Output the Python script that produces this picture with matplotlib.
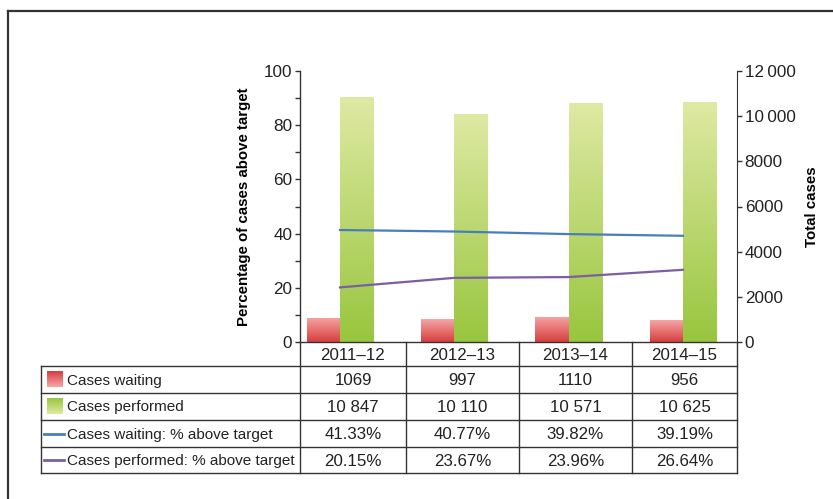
import numpy as np
import matplotlib
matplotlib.use("Agg")
import matplotlib.pyplot as plt
from matplotlib.colors import LinearSegmentedColormap
from matplotlib.ticker import FuncFormatter, MultipleLocator


# Financial years shown on the category axis
years = ["2011\u201312", "2012\u201313", "2013\u201314", "2014\u201315"]

# Totals (right axis)
cases_waiting = [1069, 997, 1110, 956]
cases_performed = [10847, 10110, 10571, 10625]

# Percentage above target (left axis)
waiting_pct = [41.33, 40.77, 39.82, 39.19]
performed_pct = [20.15, 23.67, 23.96, 26.64]

row_labels = ["Cases waiting", "Cases performed",
              "Cases waiting: % above target", "Cases performed: % above target"]

plt.rcParams["font.family"] = ["Liberation Sans", "DejaVu Sans"]

W, H = 833, 499
fig = plt.figure(figsize=(W / 100, H / 100), dpi=100)

red_map = LinearSegmentedColormap.from_list("red", ["#d63e3d", "#f6a6a6"])
green_map = LinearSegmentedColormap.from_list("green", ["#98c63f", "#dfe9a3"])
blue = "#4a7ebb"
purple = "#7d5ea2"


def px_box(x0, y0, x1, y1):
    # pixel box (top-left origin) -> figure fraction rect
    return [x0 / W, 1 - y1 / H, (x1 - x0) / W, (y1 - y0) / H]


def gradient_fill(axis, patch, cmap):
    x0, y0 = patch.get_x(), patch.get_y()
    w, h = patch.get_width(), patch.get_height()
    grad = np.linspace(0, 1, 256).reshape(-1, 1)
    im = axis.imshow(grad, cmap=cmap, origin="lower", aspect="auto",
                     extent=(x0, x0 + w, y0, y0 + h), zorder=patch.get_zorder() + 0.1)
    im.set_clip_path(patch)


# Main plot area
ax = fig.add_axes(px_box(300, 71, 737, 342))
axb = ax.twinx()
ax.set_zorder(axb.get_zorder() + 1)
ax.patch.set_visible(False)

x = np.arange(len(years))
bw = 0.29

# Bars on the totals axis
bars_w = axb.bar(x - bw / 2, cases_waiting, bw, color="#e77", edgecolor="none")
bars_p = axb.bar(x + bw / 2, cases_performed, bw, color="#bd6", edgecolor="none")
for b in bars_w:
    gradient_fill(axb, b, red_map)
for b in bars_p:
    gradient_fill(axb, b, green_map)
axb.set_ylim(0, 12000)

# Percentage lines
ax.plot(x, waiting_pct, color=blue, lw=1.6)
ax.plot(x, performed_pct, color=purple, lw=1.6)
ax.set_ylim(0, 100)
ax.set_xlim(-0.35, 3.473)
axb.set_xlim(-0.35, 3.473)

# Axis styling
for a in (ax, axb):
    a.spines["top"].set_visible(False)
    a.set_xticks([])
ax.spines["right"].set_visible(False)
axb.spines["left"].set_visible(False)
for s in ("left", "bottom"):
    ax.spines[s].set_color("#333333")
    ax.spines[s].set_linewidth(1.0)
axb.spines["right"].set_color("#333333")
axb.spines["bottom"].set_visible(False)

ax.yaxis.set_major_locator(MultipleLocator(20))
ax.yaxis.set_minor_locator(MultipleLocator(10))
ax.tick_params(axis="y", which="both", direction="out", length=3.5, width=1,
               color="#333333", labelsize=12.3, pad=2, labelcolor="#222222")
axb.yaxis.set_major_locator(MultipleLocator(2000))
axb.yaxis.set_major_formatter(FuncFormatter(
    lambda v, p: f"{int(v):,}".replace(",", "\u2009") if v >= 10000 else f"{int(v)}"))
axb.tick_params(axis="y", direction="out", length=3.5, width=1,
                color="#333333", labelsize=12.3, pad=2, labelcolor="#222222")

ax.set_ylabel("Percentage of cases above target", fontsize=10.8, fontweight="bold", labelpad=9)
axb.set_ylabel("Total cases", fontsize=10.8, fontweight="bold", labelpad=7)

# Data table below the plot
tab = fig.add_axes([0, 0, 1, 1])
tab.set_xlim(0, W)
tab.set_ylim(H, 0)
tab.axis("off")
tab.patch.set_visible(False)

col_edges = [300, 406, 519, 632, 737]
row_edges = [342, 366, 393, 420, 447, 473]
lc = "#333333"
lw = 1.0

# vertical lines
tab.plot([41, 41], [row_edges[1], row_edges[-1]], color=lc, lw=lw)
for cx in col_edges:
    tab.plot([cx, cx], [row_edges[0], row_edges[-1]], color=lc, lw=lw)
# horizontal lines
for ry in row_edges[1:]:
    tab.plot([41, col_edges[-1]], [ry, ry], color=lc, lw=lw)

num_fs = 12.2
lab_fs = 11.0
for j, yr in enumerate(years):
    cx = (col_edges[j] + col_edges[j + 1]) / 2
    tab.text(cx, (row_edges[0] + row_edges[1]) / 2 + 1, yr, ha="center", va="center",
             fontsize=num_fs, color="#222222")

rows = [
    [f"{v}" for v in cases_waiting],
    [f"{v:,}".replace(",", " ") for v in cases_performed],
    [f"{v:.2f}%" for v in waiting_pct],
    [f"{v:.2f}%" for v in performed_pct],
]
for i, (label, vals) in enumerate(zip(row_labels, rows)):
    cy = (row_edges[i + 1] + row_edges[i + 2]) / 2 + 1
    tab.text(67, cy, label, ha="left", va="center", fontsize=lab_fs, color="#222222")
    for j, v in enumerate(vals):
        cx = (col_edges[j] + col_edges[j + 1]) / 2
        tab.text(cx, cy, v, ha="center", va="center", fontsize=num_fs, color="#222222")

# legend keys
grad = np.linspace(0, 1, 64).reshape(-1, 1)
for i, cmap in enumerate([red_map, green_map]):
    cy = (row_edges[i + 1] + row_edges[i + 2]) / 2
    tab.imshow(grad, cmap=cmap, origin="upper", aspect="auto",
               extent=(47, 63, cy + 8, cy - 8))
for i, col in enumerate([blue, purple]):
    cy = (row_edges[i + 3] + row_edges[i + 4]) / 2
    tab.plot([44, 64], [cy, cy], color=col, lw=2)
tab.set_xlim(0, W)
tab.set_ylim(H, 0)

# frame around the figure (top and left only)
tab.plot([8, W], [11, 11], color="#333333", lw=1.6)
tab.plot([8, 8], [11, H], color="#333333", lw=1.6)

fig.savefig("out.png", dpi=100)
